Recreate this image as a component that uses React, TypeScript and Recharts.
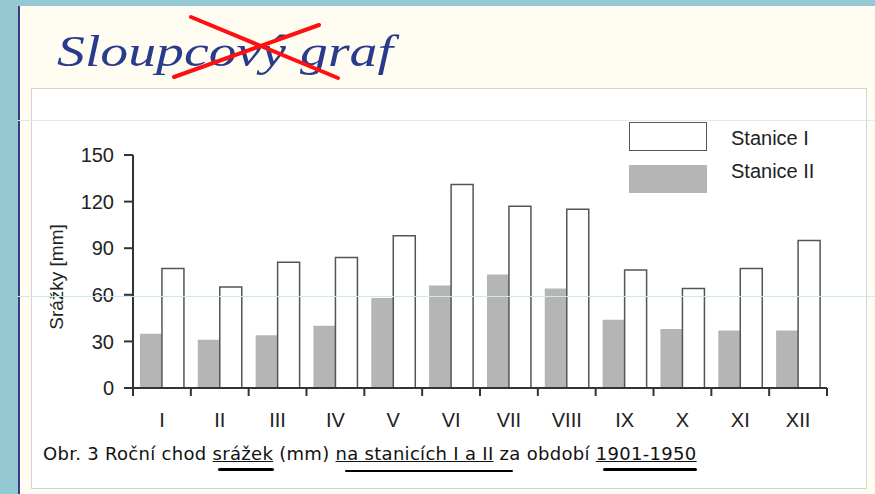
import React from 'react';
import { BarChart, Bar, XAxis, YAxis } from 'recharts';

const months = ['I', 'II', 'III', 'IV', 'V', 'VI', 'VII', 'VIII', 'IX', 'X', 'XI', 'XII'];
const stanice1 = [77, 65, 81, 84, 98, 131, 117, 115, 76, 64, 77, 95];
const stanice2 = [35, 31, 34, 40, 58, 66, 73, 64, 44, 38, 37, 37];
const yTicks = [0, 30, 60, 90, 120, 150];

const data = months.map((m, i) => ({ month: m, s1: stanice1[i], s2: stanice2[i] }));

const axisColor = '#333';
const font = '"Liberation Sans", Arial, sans-serif';

// tick lines sit on the category boundaries, labels in the middle
function MonthTick(props: any) {
  const { x, y, payload, index } = props;
  const half = payload && payload.offset ? payload.offset : 57.8 / 2;
  return (
    <g>
      <line x1={x - half} y1={y - 8} x2={x - half} y2={y} stroke={axisColor} strokeWidth={2} />
      {index === months.length - 1 && (
        <line x1={x + half} y1={y - 8} x2={x + half} y2={y} stroke={axisColor} strokeWidth={2} />
      )}
      <text x={x} y={y + 31} textAnchor="middle" fontSize={20} fill="#222" fontFamily={font}>
        {payload.value}
      </text>
    </g>
  );
}

export default function App() {
  return (
    <div style={{ position: 'absolute', left: 0, top: 0, width: 875, height: 494, background: '#fffdf2', overflow: 'hidden' }}>
      {/* slide frame */}
      <div style={{ position: 'absolute', left: 0, top: 0, width: 875, height: 6, background: '#94c8d3' }} />
      <div style={{ position: 'absolute', left: 0, top: 0, width: 18, height: 494, background: '#94c8d3' }} />
      <div style={{ position: 'absolute', left: 18, top: 6, width: 2, height: 488, background: '#3a3a86' }} />

      {/* title */}
      <svg style={{ position: 'absolute', left: 0, top: 0 }} width={875} height={90}>
        <text x={57} y={66} fontSize={44} fontStyle="italic" fill="#2b3b8c"
          fontFamily='"Liberation Serif", "DejaVu Serif", serif' textLength={336} lengthAdjust="spacingAndGlyphs">
          Sloupcový graf
        </text>
        <line x1={191} y1={17} x2={338} y2={78} stroke="#ff1010" strokeWidth={4} strokeLinecap="round" />
        <line x1={319} y1={25} x2={174} y2={77} stroke="#ff1010" strokeWidth={4} strokeLinecap="round" />
      </svg>

      {/* panel */}
      <div style={{ position: 'absolute', left: 31, top: 88, width: 834, height: 399, background: '#fff', border: '1px solid #d4d4d4' }} />

      <div style={{ position: 'absolute', left: 30, top: 90 }}>
        <BarChart width={836} height={398} data={data} margin={{ top: 65, right: 39, bottom: 70, left: 43 }}
          barCategoryGap="12%" barGap={0}>
          <XAxis dataKey="month" axisLine={{ stroke: axisColor, strokeWidth: 2 }} tickLine={false}
            tick={<MonthTick />} height={30} interval={0} />
          <YAxis domain={[0, 150]} ticks={yTicks} width={60} axisLine={{ stroke: axisColor, strokeWidth: 2 }}
            tickLine={{ stroke: axisColor, strokeWidth: 2 }} tickSize={9} tickMargin={10}
            tick={{ fontSize: 20, fill: '#222', fontFamily: font }} />
          <Bar dataKey="s2" name="Stanice II" fill="#b5b5b5" isAnimationActive={false} />
          <Bar dataKey="s1" name="Stanice I" fill="#fff" stroke="#555" strokeWidth={1.5} isAnimationActive={false} />
        </BarChart>
      </div>

      {/* y label */}
      <svg style={{ position: 'absolute', left: 0, top: 0, pointerEvents: 'none' }} width={875} height={494}>
        <text transform="translate(63,277) rotate(-90)" textAnchor="middle" fontSize={19} fill="#222" fontFamily={font}>
          Srážky [mm]
        </text>
      </svg>

      {/* legend */}
      <div style={{ position: 'absolute', left: 629, top: 122, width: 76, height: 27, border: '1.5px solid #555', background: '#fff' }} />
      <div style={{ position: 'absolute', left: 629, top: 165, width: 78, height: 28, background: '#b5b5b5' }} />
      <div style={{ position: 'absolute', left: 731, top: 127, fontSize: 20, fontFamily: font, color: '#222', lineHeight: '23px' }}>Stanice I</div>
      <div style={{ position: 'absolute', left: 731, top: 160, fontSize: 20, fontFamily: font, color: '#222', lineHeight: '23px' }}>Stanice II</div>

      {/* caption */}
      <div style={{ position: 'absolute', left: 40, top: 441, width: 690, height: 34, background: '#fff' }} />
      <div style={{ position: 'absolute', left: 43, top: 443, fontSize: 18, letterSpacing: '0.3px', lineHeight: '21px', fontFamily: '"DejaVu Sans", Verdana, sans-serif', color: '#111', whiteSpace: 'nowrap' }}>
        Obr. 3 Roční chod <span style={{ textDecoration: 'underline' }}>srážek</span> (mm) <span style={{ textDecoration: 'underline' }}>na stanicích I a II</span> za období <span style={{ textDecoration: 'underline' }}>1901-1950</span>
      </div>
      <div style={{ position: 'absolute', left: 218, top: 468, width: 56, height: 3, background: '#000', borderRadius: 2 }} />
      <div style={{ position: 'absolute', left: 345, top: 470, width: 168, height: 2, background: '#000', borderRadius: 2 }} />
      <div style={{ position: 'absolute', left: 603, top: 468, width: 94, height: 3, background: '#000', borderRadius: 2 }} />

      {/* faint guide lines */}
      <div style={{ position: 'absolute', left: 18, top: 120, width: 857, height: 1, background: '#d6eef3' }} />
      <div style={{ position: 'absolute', left: 18, top: 296, width: 857, height: 1, background: '#cbe9ef' }} />
    </div>
  );
}
